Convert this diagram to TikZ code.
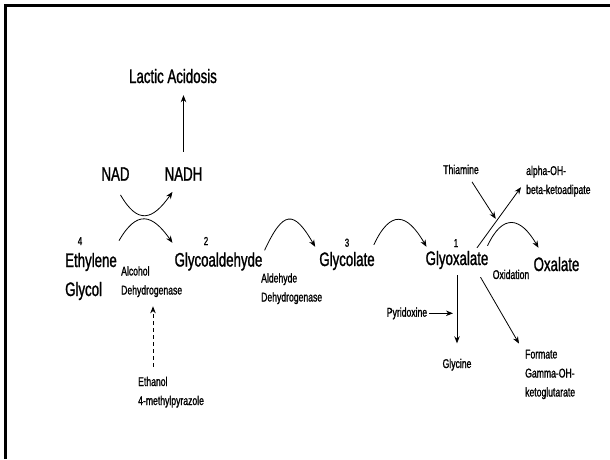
\documentclass[tikz,border=0pt]{standalone}
\usepackage{fontspec}
\setmainfont{Liberation Sans}
\newfontfamily\condfont[FakeStretch=0.68, FakeBold=1.2]{Liberation Sans}
\usetikzlibrary{arrows.meta}
\newcommand{\bigtext}{\condfont\fontsize{19.5}{29}\selectfont}
\newcommand{\smalltext}{\condfont\fontsize{12.7}{19}\selectfont}
\newcommand{\numtext}{\condfont\fontsize{11.5}{14}\selectfont}

\begin{document}
\begin{tikzpicture}[x=1pt, y=1pt,
    compound/.style={font=\bigtext, inner sep=2pt, anchor=base, text height=14pt, text depth=4pt},
    minor/.style={font=\smalltext, inner sep=2pt, anchor=base, text height=9.5pt, text depth=2.7pt},
    enzyme/.style={font=\smalltext, inner sep=2pt, align=left, anchor=base west},
    num/.style={font=\numtext, inner sep=1pt, anchor=base},
    flow/.style={-{Stealth[length=7pt,width=5.5pt]}, line width=0.8pt}]
    \useasboundingbox (0,0) rectangle (610,459);
    % frame
    \draw[line width=3pt] (5,0) -- (5,453.5) -- (610,453.5);

    % Cofactors
    \node[compound] (lactic) at (173,376) {Lactic Acidosis};
    \node[compound] (nad) at (115.5,278.3) {NAD};
    \node[compound] (nadh) at (183.5,278.3) {NADH};

    % Main pathway (multi-line nodes sit on their last baseline)
    \node[font=\bigtext, inner sep=2pt, align=left, anchor=base west] (eg) at (63,163) {Ethylene\\Glycol};
    \node[compound] (glyald) at (218.5,192.5) {Glycoaldehyde};
    \node[compound] (glycolate) at (347,193) {Glycolate};
    \node[compound] (glyox) at (457,194) {Glyoxalate};
    \node[compound] (oxalate) at (556.5,188) {Oxalate};

    % Step numbers
    \node[num] (n4) at (80,214) {4};
    \node[num] (n2) at (206,214) {2};
    \node[num] (n3) at (347,212.3) {3};
    \node[num] (n1) at (456,212) {1};

    % Enzymes and side labels
    \node[enzyme] (adh) at (119,164.5) {Alcohol\\Dehydrogenase};
    \node[enzyme] (aldh) at (259,157.5) {Aldehyde\\Dehydrogenase};
    \node[minor] (oxid) at (511,180) {Oxidation};
    \node[minor] (thiamine) at (461,285) {Thiamine};
    \node[enzyme] (alpha) at (524,265) {alpha-OH-\\beta-ketoadipate};
    \node[minor] (pyridoxine) at (407,142.3) {Pyridoxine};
    \node[minor] (glycine) at (457,91) {Glycine};
    \node[enzyme] (formate) at (523,62.5) {Formate\\Gamma-OH-\\ketoglutarate};
    \node[enzyme] (ethanol) at (136,54) {Ethanol\\4-methylpyrazole};

    % NADH to lactic acidosis
    \draw[flow] ([yshift=13]nadh.north) -- ([yshift=-6]nadh.north |- lactic.south);

    % Crossing arcs
    \draw[flow] ([shift={(5,-8)}]nad.south) to[out=-60, in=-125, looseness=1.7] ([shift={(-11,-5)}]nadh.south);
    \draw[flow] ([yshift=10]eg.north east) to[out=60, in=125, looseness=1.7] ([yshift=7.5]glyald.north west);

    % Reaction arcs
    \draw[flow] (glyald.north east) to[out=65, in=120, looseness=2.2] ([shift={(-2,3)}]glycolate.north west);
    \draw[flow] ([shift={(-3,5)}]glycolate.north east) to[out=65, in=120, looseness=1.9] ([shift={(3,2)}]glyox.north west);
    \draw[flow] ([shift={(-3,3)}]glyox.north east) to[out=65, in=120, looseness=1.8] ([shift={(7,7)}]oxalate.north west);

    % Branches from glyoxalate
    \draw[flow] ([shift={(20,1)}]glyox.north) -- coordinate[pos=0.45] (thmeet) ([shift={(-3,-6)}]alpha.west);
    \draw[flow, shorten >=2pt] ([shift={(11,-3)}]thiamine.south) -- (thmeet);
    \draw[flow] ([yshift=-4]glyox.south) -- ([yshift=13]glycine.north);
    \draw[flow, shorten >=4pt] (pyridoxine.east) -- (pyridoxine.east -| glycine.north);
    \draw[flow] ([shift={(-10,-6)}]glyox.south east) -- ([shift={(-4,4)}]formate.north west);

    % Inhibitors
    \coordinate (etoh) at ([shift={(17,8)}]ethanol.north west);
    \draw[flow, dash pattern=on 4pt off 3pt, shorten >=7pt] (etoh) -- (etoh |- adh.south);
\end{tikzpicture}
\end{document}
